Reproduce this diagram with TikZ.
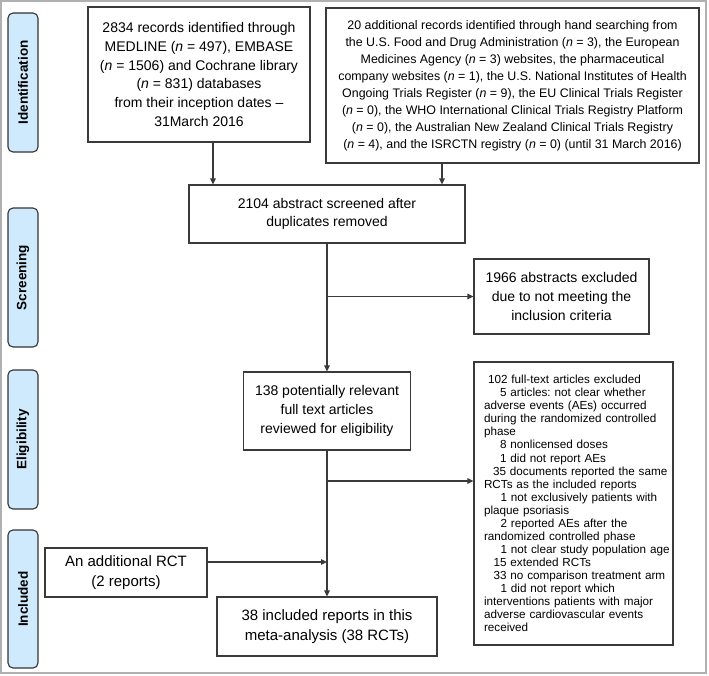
\documentclass[tikz,border=0pt]{standalone}
\usepackage{fontspec}
\setmainfont{Liberation Sans}
\usetikzlibrary{arrows.meta}
\definecolor{boxc}{HTML}{3A3A3A}
\definecolor{framec}{HTML}{B0B0B0}
\definecolor{phasec}{HTML}{333333}
\definecolor{phasefill}{HTML}{CFEAFC}
\frenchspacing
\newcommand{\xind}[1]{\hspace*{\dimexpr 10pt+#1\relax}}
\begin{document}
\begin{tikzpicture}[x=1pt,y=-1pt,
  box/.style={draw=boxc, line width=1.1pt, align=center, inner sep=0pt, rectangle},
  phase/.style={draw=phasec, fill=phasefill, line width=1.1pt, rounded corners=5pt, inner sep=0pt, rotate=90, minimum height=30pt, font=\fontsize{13.5}{16}\selectfont\bfseries},
  flow/.style={draw=boxc, line width=1.1pt, -{Triangle[length=6pt,width=5.5pt]}},
  fbig/.style={font=\fontsize{14}{18.7}\selectfont},
  fmid/.style={font=\fontsize{12.4}{17}\selectfont},
  flarge/.style={font=\fontsize{15}{20}\selectfont},
  fsmall/.style={font=\fontsize{11.7}{13.05}\selectfont}
]
\useasboundingbox (0,0) rectangle (709,675);
\draw[framec, line width=1.5pt] (1,1) rectangle (706,673);

% phase labels
\node[phase, minimum width=139pt] (pid) at (23,82.5) {Identification};
\node[phase, minimum width=139pt] (psc) at (23,277.5) {Screening};
\node[phase, minimum width=139pt] (pel) at (23,439.5) {Eligibility};
\node[phase, minimum width=138pt] (pin) at (23,599) {Included};

% boxes
\node[box, fbig, minimum width=222pt, minimum height=135pt] (rec1) at (199,74.5)
 {2834 records identified through\\
  MEDLINE (\textit{n} = 497), EMBASE\\
  (\textit{n} = 1506) and Cochrane library\\
  (\textit{n} = 831) databases\\
  from their inception dates --\\
  31March 2016};

\node[box, fmid, minimum width=373pt, minimum height=155pt] (rec2) at (512.5,85.5)
 {20 additional records identified through hand searching from\\
  the U.S. Food and Drug Administration (\textit{n} = 3), the European\\
  Medicines Agency (\textit{n} = 3) websites, the pharmaceutical\\
  company websites (\textit{n} = 1), the U.S. National Institutes of Health\\
  Ongoing Trials Register (\textit{n} = 9), the EU Clinical Trials Register\\
  (\textit{n} = 0), the WHO International Clinical Trials Registry Platform\\
  (\textit{n} = 0), the Australian New Zealand Clinical Trials Registry\\
  (\textit{n} = 4), and the ISRCTN registry (\textit{n} = 0) (until 31 March 2016)};

\node[box, fbig, minimum width=276pt, minimum height=58pt] (abs) at (327,214)
 {2104 abstract screened after\\ duplicates removed};

\node[box, fbig, minimum width=175pt, minimum height=75pt] (excl1) at (561.5,296.5)
 {1966 abstracts excluded\\ due to not meeting the\\ inclusion criteria};

\node[box, fbig, minimum width=167pt, minimum height=78pt] (elig) at (327,411)
 {138 potentially relevant\\ full text articles\\ reviewed for eligibility};

\node[box, fsmall, align=left, text width=199pt, inner xsep=0pt, minimum height=283pt] (excl2) at (573.5,503.5)
 {\xind{4pt}102 full-text articles excluded\\
  \xind{16pt}5 articles: not clear whether\\
  \xind{0pt}adverse events (AEs) occurred\\
  \xind{0pt}during the randomized controlled\\
  \xind{0pt}phase\\
  \xind{16pt}8 nonlicensed doses\\
  \xind{16pt}1 did not report AEs\\
  \xind{9pt}35 documents reported the same\\
  \xind{0pt}RCTs as the included reports\\
  \xind{16.5pt}1 not exclusively patients with\\
  \xind{0pt}plaque psoriasis\\
  \xind{16.5pt}2 reported AEs after the\\
  \xind{0pt}randomized controlled phase\\
  \xind{16.5pt}1 not clear study population age\\
  \xind{9.5pt}15 extended RCTs\\
  \xind{9.5pt}33 no comparison treatment arm\\
  \xind{16.5pt}1 did not report which\\
  \xind{0pt}interventions patients with major\\
  \xind{0pt}adverse cardiovascular events\\
  \xind{0pt}received};

\node[box, flarge, minimum width=162pt, minimum height=49pt] (rct) at (126,572.5)
 {An additional RCT\\ (2 reports)};

\node[box, flarge, minimum width=220pt, minimum height=59pt] (incl) at (327,626.5)
 {38 included reports in this\\ meta-analysis (38 RCTs)};

% connectors
\coordinate (a1) at ([xshift=14pt]rec1.south);
\coordinate (a2) at ([xshift=-70.5pt]rec2.south);
\draw[flow] (a1) -- (a1 |- abs.north);
\draw[flow] (a2) -- (a2 |- abs.north);

\draw[flow] (abs.south) -- (elig.north);
\coordinate (b1) at (abs.south |- excl1.west);
\draw[flow] (b1) -- (excl1.west);

\coordinate (b2) at ([yshift=22.5pt]excl2.west);
\draw[flow] (elig.south |- b2) -- (b2);

\draw[flow] (elig.south) -- (incl.north);
\coordinate (r1) at ([yshift=10.5pt]rct.east);
\draw[flow] (r1) -- (r1 -| elig.south);
\end{tikzpicture}
\end{document}
